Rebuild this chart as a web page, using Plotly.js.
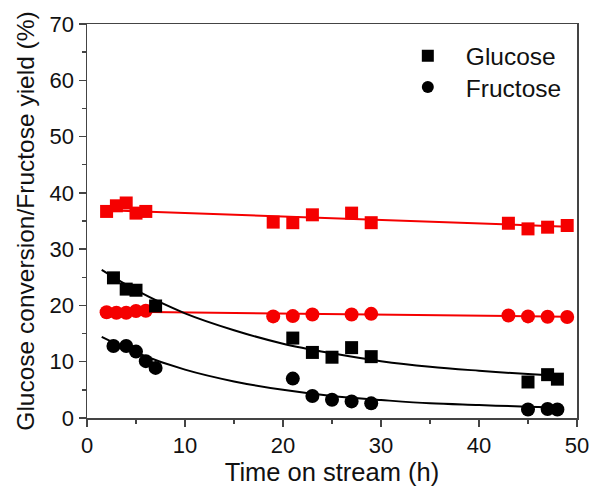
<!DOCTYPE html>
<html>
<head>
<meta charset="utf-8">
<script src="https://cdn.plot.ly/plotly-3.0.1.min.js"></script>
<style>html,body{margin:0;padding:0;background:#fff}#chart{width:590px;height:494px}</style>
</head>
<body>
<div id="chart"></div>
<script>
// Red squares (glucose conversion, catalyst 2)
const redSqX = [2, 3, 4, 5, 6, 19, 21, 23, 27, 29, 43, 45, 47, 49];
const redSqY = [36.7, 37.7, 38.2, 36.4, 36.7, 34.8, 34.7, 36.1, 36.4, 34.7, 34.6, 33.6, 33.9, 34.2];
const redSqLineX = [2, 49];
const redSqLineY = [36.9, 34.0];

// Red circles (fructose yield, catalyst 2)
const redCiX = [2, 3, 4, 5, 6, 19, 21, 23, 27, 29, 43, 45, 47, 49];
const redCiY = [18.8, 18.7, 18.7, 19.0, 19.05, 18.05, 18.1, 18.4, 18.4, 18.5, 18.2, 18.05, 18.0, 17.95];
const redCiLineX = [2, 49];
const redCiLineY = [18.9, 18.0];

// Black squares: Glucose
const glcX = [2.7, 4, 5, 7, 21, 23, 25, 27, 29, 45, 47, 48];
const glcY = [24.9, 22.9, 22.7, 19.9, 14.2, 11.65, 10.8, 12.5, 10.9, 6.4, 7.7, 6.9];

// Black circles: Fructose
const fruX = [2.7, 4, 5, 6, 7, 21, 23, 25, 27, 29, 45, 47, 48];
const fruY = [12.8, 12.8, 11.8, 10.1, 8.9, 7.0, 3.9, 3.25, 2.95, 2.6, 1.5, 1.6, 1.5];

// Fitted curves
const fitX = [1.5, 5, 10, 15, 20, 25, 30, 35, 40, 45, 48];
const glcFit = [26.3, 22.7, 18.6, 15.6, 13.2, 11.5, 10.1, 9.1, 8.4, 7.8, 7.5];
const fruFit = [14.4, 11.6, 8.6, 6.5, 5.0, 3.9, 3.2, 2.6, 2.3, 2.0, 1.85];

const RED = 'rgb(245,0,0)';
const BLK = 'rgb(0,0,0)';
const FONT = 'Liberation Sans, Arial, sans-serif';

const traces = [
  {x: redSqLineX, y: redSqLineY, mode: 'lines', line: {color: RED, width: 2}, showlegend: false, hoverinfo: 'skip'},
  {x: redCiLineX, y: redCiLineY, mode: 'lines', line: {color: RED, width: 2}, showlegend: false, hoverinfo: 'skip'},
  {x: fitX, y: glcFit, mode: 'lines', line: {color: BLK, width: 2, shape: 'spline'}, showlegend: false, hoverinfo: 'skip'},
  {x: fitX, y: fruFit, mode: 'lines', line: {color: BLK, width: 2, shape: 'spline'}, showlegend: false, hoverinfo: 'skip'},
  {x: redSqX, y: redSqY, mode: 'markers', marker: {symbol: 'square', size: 13, color: RED}, showlegend: false},
  {x: redCiX, y: redCiY, mode: 'markers', marker: {symbol: 'circle', size: 14, color: RED}, showlegend: false},
  {x: glcX, y: glcY, name: 'Glucose', mode: 'markers', marker: {symbol: 'square', size: 13, color: BLK}, legend: 'legend'},
  {x: fruX, y: fruY, name: 'Fructose', mode: 'markers', marker: {symbol: 'circle', size: 14, color: BLK}, legend: 'legend2'}
];

const axisCommon = {
  showgrid: false, zeroline: false,
  showline: true, linecolor: '#444', linewidth: 1.5, mirror: true,
  ticks: 'outside', ticklen: 7, tickwidth: 1.5, tickcolor: '#444',
  tickfont: {family: FONT, size: 22, color: '#111'}
};

const legendCommon = {
  x: 0.618, xanchor: 'left', yanchor: 'middle',
  bgcolor: 'rgba(0,0,0,0)', borderwidth: 0,
  font: {family: FONT, size: 24.5, color: '#111'},
  itemsizing: 'constant', itemwidth: 66
};

const layout = {
  width: 590, height: 494,
  margin: {l: 87, r: 13, t: 24, b: 76},
  paper_bgcolor: '#fff', plot_bgcolor: '#fff',
  font: {family: FONT, color: '#111'},
  xaxis: Object.assign({}, axisCommon, {
    range: [0, 50], dtick: 10, tick0: 0,
    minor: {dtick: 5, ticks: 'outside', ticklen: 4, tickwidth: 1.5, tickcolor: '#444'},
    title: {text: 'Time on stream (h)', font: {family: FONT, size: 25.5, color: '#111'}, standoff: 3}
  }),
  yaxis: Object.assign({}, axisCommon, {
    range: [0, 70], dtick: 10, tick0: 0,
    minor: {dtick: 5, ticks: 'outside', ticklen: 4, tickwidth: 1.5, tickcolor: '#444'},
    title: {text: 'Glucose conversion/Fructose yield (%)', font: {family: FONT, size: 24.5, color: '#111'}, standoff: 8}
  }),
  legend: Object.assign({}, legendCommon, {y: 0.919}),
  legend2: Object.assign({}, legendCommon, {y: 0.840}),
  showlegend: true
};

Plotly.newPlot('chart', traces, layout, {displayModeBar: false, staticPlot: true});
</script>
</body>
</html>
